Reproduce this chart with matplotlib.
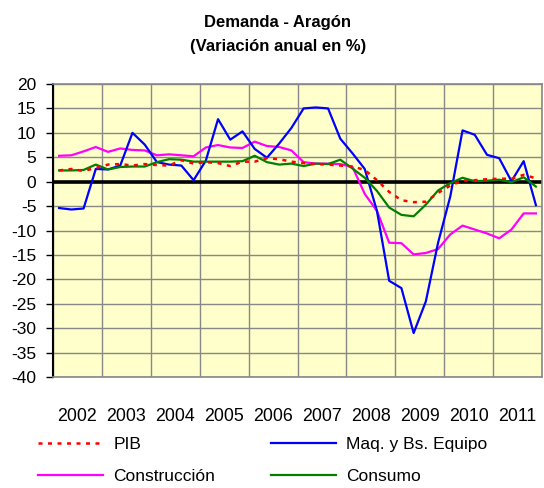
import numpy as np
import matplotlib
matplotlib.use("Agg")
import matplotlib.pyplot as plt

# ---- data (quarterly, 2002Q1 .. 2011Q4) ----
years = list(range(2002, 2012))
pib = [2.3, 2.6, 2.2, 2.8, 3.5, 3.6, 3.3, 3.6, 3.4, 3.3,
       4.4, 3.7, 4.0, 3.8, 3.2, 4.1, 4.1, 4.8, 4.6, 4.1,
       3.8, 3.6, 3.5, 3.3, 3.1, 2.4, 0.3, -2.1, -3.8, -4.2,
       -4.1, -2.3, -0.8, 0.2, 0.3, 0.5, 0.6, 0.6, 1.4, 0.7]
maq = [-5.4, -5.7, -5.5, 2.6, 2.5, 3.3, 10.0, 7.6, 4.0, 3.5,
       3.3, 0.3, 4.3, 12.8, 8.6, 10.3, 6.7, 4.9, 7.8, 11.0,
       15.0, 15.2, 15.0, 8.8, 5.8, 2.6, -6.0, -20.3, -21.8, -31.0,
       -24.5, -12.5, -3.0, 10.5, 9.6, 5.5, 4.8, 0.1, 4.2, -4.8]
construccion = [5.3, 5.4, 6.2, 7.1, 6.1, 6.8, 6.5, 6.4, 5.4, 5.6,
                5.4, 5.2, 7.0, 7.5, 7.0, 6.9, 8.2, 7.3, 7.1, 6.4,
                4.0, 3.7, 3.7, 3.6, 3.0, -2.5, -6.0, -12.5, -12.6, -14.9,
                -14.6, -13.8, -10.8, -9.0, -9.8, -10.6, -11.6, -9.8, -6.5, -6.5]
consumo = [2.3, 2.3, 2.4, 3.5, 2.5, 3.0, 3.1, 3.1, 4.0, 4.6,
           4.5, 4.1, 4.1, 4.1, 4.1, 4.2, 5.3, 4.0, 3.5, 3.7,
           3.2, 3.7, 3.6, 4.5, 2.7, 0.8, -1.9, -5.3, -6.8, -7.1,
           -4.7, -1.8, -0.3, 0.8, 0.1, 0.2, 0.4, -0.1, 0.9, -1.0]
yticks = list(range(-40, 21, 5))

plt.rcParams['font.family'] = ['Liberation Sans', 'DejaVu Sans']

fig = plt.figure(figsize=(5.44, 4.88), dpi=100)
ax = fig.add_axes([53/544, 1-377/488, 489/544, 293/488])
ax.set_facecolor('#FFFFCC')

n = len(pib)
x = np.arange(n)

ax.plot(x, construccion, color='#FF00FF', lw=1.6, zorder=3, label='Construcción')
ax.plot(x, maq, color='#0000FF', lw=1.6, zorder=4, label='Maq. y Bs. Equipo')
ax.plot(x, consumo, color='#008000', lw=1.6, zorder=5, label='Consumo')
ax.plot(x, pib, color='#FF0000', lw=1.8, ls=(0, (1.6, 2.2)), zorder=6, label='PIB')

ax.axhline(0, color='black', lw=2.6, zorder=2)

ax.set_xlim(-0.5, n - 0.5)
ax.set_ylim(-40, 20)
ax.set_yticks(yticks)
ax.set_yticklabels([str(t) for t in yticks], fontsize=12.5)
ax.tick_params(axis='y', direction='out', length=5, width=1, color='black', pad=7)

nyears = len(years)
ax.set_xticks([4*k - 0.5 for k in range(nyears + 1)])
ax.set_xticklabels([])
ax.set_xticks([4*k + 1.5 for k in range(nyears)], minor=True)
ax.set_xticklabels([str(y) for y in years], minor=True, fontsize=12.8)
ax.tick_params(axis='x', which='both', length=0)
ax.tick_params(axis='x', which='minor', pad=22)

ax.grid(True, which='major', color='#888888', lw=1.0, zorder=1)
ax.set_axisbelow(True)
for s in ['top', 'right', 'bottom']:
    ax.spines[s].set_color('#888888')
    ax.spines[s].set_linewidth(1.2)
ax.spines['left'].set_color('black')
ax.spines['left'].set_linewidth(1.5)

fig.text(278/544, 1-23/488, 'Demanda - Aragón', ha='center', va='center',
         fontsize=12, fontweight='bold')
fig.text(278/544, 1-47/488, '(Variación anual en %)', ha='center', va='center',
         fontsize=12, fontweight='bold')

h, l = ax.get_legend_handles_labels()
order = [3, 0, 1, 2]  # PIB, Construcción, Maq, Consumo
leg = fig.legend([h[i] for i in order], [l[i] for i in order], ncol=2,
                 loc='upper left', bbox_to_anchor=(38/544, 1-437/488),
                 frameon=False, fontsize=12.5, handlelength=3.75,
                 handletextpad=0.6, columnspacing=3.2, labelspacing=0.95,
                 borderpad=0, borderaxespad=0)

fig.savefig('out.png', dpi=100)
